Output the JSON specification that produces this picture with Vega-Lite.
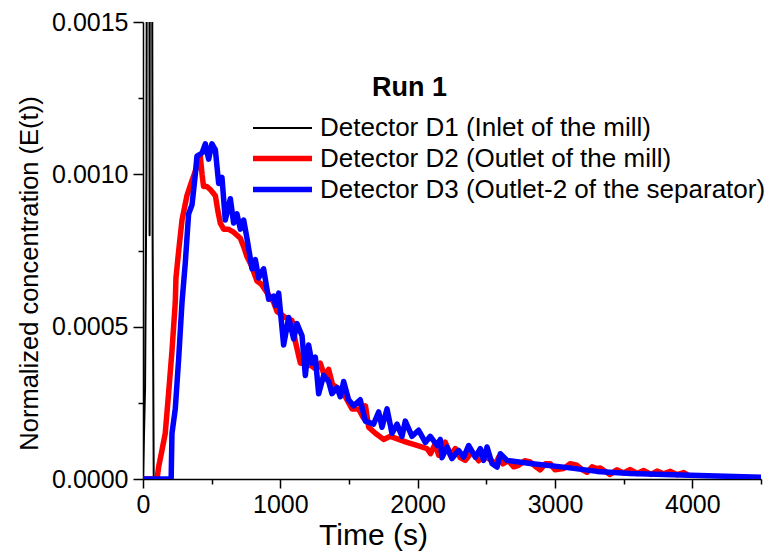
{
  "$schema": "https://vega.github.io/schema/vega-lite/v6.json",
  "width": 618,
  "height": 457,
  "autosize": {"type": "none"},
  "padding": {"left": 143, "top": 22, "right": 5, "bottom": 77},
  "background": "white",
  "config": {
    "view": {"stroke": null},
    "font": "Liberation Sans"
  },
  "title": {
    "text": "Run 1",
    "frame": "group",
    "anchor": "start",
    "orient": "top",
    "baseline": "top",
    "offset": 0,
    "dx": 229,
    "dy": 92,
    "font": "Liberation Sans",
    "fontSize": 27,
    "fontWeight": "bold",
    "color": "black"
  },
  "data": {
    "values": [
      {"s": "D1", "t": 0, "v": 0},
      {"s": "D1", "t": 15, "v": 0.0003},
      {"s": "D1", "t": 25, "v": 0.001},
      {"s": "D1", "t": 35, "v": 0.004},
      {"s": "D1", "t": 45, "v": 0.003},
      {"s": "D1", "t": 48, "v": 0.0008},
      {"s": "D1", "t": 52, "v": 0.0035},
      {"s": "D1", "t": 62, "v": 0.003},
      {"s": "D1", "t": 70, "v": 0.0008},
      {"s": "D1", "t": 78, "v": 0},
      {"s": "D1", "t": 200, "v": 0},

      {"s": "D2", "t": 0, "v": 0},
      {"s": "D2", "t": 102, "v": 0},
      {"s": "D2", "t": 114, "v": 0.00004},
      {"s": "D2", "t": 138, "v": 0.000094},
      {"s": "D2", "t": 162, "v": 0.00015},
      {"s": "D2", "t": 186, "v": 0.00028},
      {"s": "D2", "t": 211, "v": 0.00042},
      {"s": "D2", "t": 235, "v": 0.00058},
      {"s": "D2", "t": 240, "v": 0.00066},
      {"s": "D2", "t": 260, "v": 0.00075},
      {"s": "D2", "t": 284, "v": 0.00085},
      {"s": "D2", "t": 320, "v": 0.00093},
      {"s": "D2", "t": 357, "v": 0.00098},
      {"s": "D2", "t": 381, "v": 0.00101},
      {"s": "D2", "t": 400, "v": 0.00104},
      {"s": "D2", "t": 417, "v": 0.00106},
      {"s": "D2", "t": 430, "v": 0.001},
      {"s": "D2", "t": 441, "v": 0.00096},
      {"s": "D2", "t": 465, "v": 0.00096},
      {"s": "D2", "t": 490, "v": 0.00095},
      {"s": "D2", "t": 527, "v": 0.00093},
      {"s": "D2", "t": 545, "v": 0.00088},
      {"s": "D2", "t": 563, "v": 0.00084},
      {"s": "D2", "t": 587, "v": 0.00082},
      {"s": "D2", "t": 620, "v": 0.00082},
      {"s": "D2", "t": 660, "v": 0.00081},
      {"s": "D2", "t": 709, "v": 0.00079},
      {"s": "D2", "t": 735, "v": 0.00076},
      {"s": "D2", "t": 757, "v": 0.00073},
      {"s": "D2", "t": 790, "v": 0.0007},
      {"s": "D2", "t": 830, "v": 0.00065},
      {"s": "D2", "t": 860, "v": 0.00064},
      {"s": "D2", "t": 891, "v": 0.00062},
      {"s": "D2", "t": 951, "v": 0.00058},
      {"s": "D2", "t": 976, "v": 0.00055},
      {"s": "D2", "t": 1036, "v": 0.00053},
      {"s": "D2", "t": 1085, "v": 0.00052},
      {"s": "D2", "t": 1110, "v": 0.00045},
      {"s": "D2", "t": 1146, "v": 0.00038},
      {"s": "D2", "t": 1190, "v": 0.00038},
      {"s": "D2", "t": 1231, "v": 0.00037},
      {"s": "D2", "t": 1260, "v": 0.00036},
      {"s": "D2", "t": 1291, "v": 0.00038},
      {"s": "D2", "t": 1320, "v": 0.00034},
      {"s": "D2", "t": 1352, "v": 0.00036},
      {"s": "D2", "t": 1380, "v": 0.00031},
      {"s": "D2", "t": 1413, "v": 0.0003},
      {"s": "D2", "t": 1450, "v": 0.00029},
      {"s": "D2", "t": 1485, "v": 0.00026},
      {"s": "D2", "t": 1522, "v": 0.00023},
      {"s": "D2", "t": 1570, "v": 0.00023},
      {"s": "D2", "t": 1605, "v": 0.0002},
      {"s": "D2", "t": 1620, "v": 0.00024},
      {"s": "D2", "t": 1643, "v": 0.00017},
      {"s": "D2", "t": 1692, "v": 0.00015},
      {"s": "D2", "t": 1752, "v": 0.00013},
      {"s": "D2", "t": 1801, "v": 0.00014},
      {"s": "D2", "t": 1862, "v": 0.00013},
      {"s": "D2", "t": 1922, "v": 0.00012},
      {"s": "D2", "t": 1995, "v": 0.00011},
      {"s": "D2", "t": 2068, "v": 0.0001},
      {"s": "D2", "t": 2094, "v": 0.000083},
      {"s": "D2", "t": 2128, "v": 0.000116},
      {"s": "D2", "t": 2153, "v": 0.000078},
      {"s": "D2", "t": 2201, "v": 0.000121},
      {"s": "D2", "t": 2238, "v": 0.000078},
      {"s": "D2", "t": 2274, "v": 0.0001},
      {"s": "D2", "t": 2310, "v": 0.00007},
      {"s": "D2", "t": 2347, "v": 0.000061},
      {"s": "D2", "t": 2396, "v": 0.000089},
      {"s": "D2", "t": 2444, "v": 0.00006},
      {"s": "D2", "t": 2470, "v": 0.00008},
      {"s": "D2", "t": 2505, "v": 0.00007},
      {"s": "D2", "t": 2540, "v": 0.00006},
      {"s": "D2", "t": 2565, "v": 0.000045},
      {"s": "D2", "t": 2590, "v": 0.000072},
      {"s": "D2", "t": 2620, "v": 0.00005},
      {"s": "D2", "t": 2660, "v": 0.00006},
      {"s": "D2", "t": 2700, "v": 0.00004},
      {"s": "D2", "t": 2735, "v": 0.000045},
      {"s": "D2", "t": 2780, "v": 0.00006},
      {"s": "D2", "t": 2820, "v": 0.000056},
      {"s": "D2", "t": 2860, "v": 0.00004},
      {"s": "D2", "t": 2893, "v": 0.00003},
      {"s": "D2", "t": 2930, "v": 0.00005},
      {"s": "D2", "t": 2966, "v": 0.00005},
      {"s": "D2", "t": 3000, "v": 0.00003},
      {"s": "D2", "t": 3063, "v": 0.000034},
      {"s": "D2", "t": 3110, "v": 0.00005},
      {"s": "D2", "t": 3160, "v": 0.000045},
      {"s": "D2", "t": 3200, "v": 0.00003},
      {"s": "D2", "t": 3233, "v": 0.000022},
      {"s": "D2", "t": 3270, "v": 0.00004},
      {"s": "D2", "t": 3306, "v": 0.000034},
      {"s": "D2", "t": 3330, "v": 0.000036},
      {"s": "D2", "t": 3400, "v": 0.000015},
      {"s": "D2", "t": 3450, "v": 0.00003},
      {"s": "D2", "t": 3500, "v": 0.00002},
      {"s": "D2", "t": 3548, "v": 0.000031},
      {"s": "D2", "t": 3600, "v": 0.000018},
      {"s": "D2", "t": 3645, "v": 0.000028},
      {"s": "D2", "t": 3700, "v": 0.000015},
      {"s": "D2", "t": 3743, "v": 0.000026},
      {"s": "D2", "t": 3790, "v": 0.000017},
      {"s": "D2", "t": 3840, "v": 0.000025},
      {"s": "D2", "t": 3890, "v": 0.000014},
      {"s": "D2", "t": 3937, "v": 0.000021},
      {"s": "D2", "t": 3970, "v": 0.000012},

      {"s": "D3", "t": 0, "v": 0},
      {"s": "D3", "t": 205, "v": 0},
      {"s": "D3", "t": 211, "v": 0.00015},
      {"s": "D3", "t": 235, "v": 0.00023},
      {"s": "D3", "t": 259, "v": 0.00039},
      {"s": "D3", "t": 284, "v": 0.00058},
      {"s": "D3", "t": 308, "v": 0.00071},
      {"s": "D3", "t": 332, "v": 0.00087},
      {"s": "D3", "t": 357, "v": 0.0009},
      {"s": "D3", "t": 381, "v": 0.001},
      {"s": "D3", "t": 393, "v": 0.00106},
      {"s": "D3", "t": 430, "v": 0.00107},
      {"s": "D3", "t": 454, "v": 0.0011},
      {"s": "D3", "t": 478, "v": 0.00105},
      {"s": "D3", "t": 502, "v": 0.0011},
      {"s": "D3", "t": 527, "v": 0.00108},
      {"s": "D3", "t": 551, "v": 0.00097},
      {"s": "D3", "t": 575, "v": 0.00099},
      {"s": "D3", "t": 599, "v": 0.00085},
      {"s": "D3", "t": 636, "v": 0.00092},
      {"s": "D3", "t": 660, "v": 0.00084},
      {"s": "D3", "t": 684, "v": 0.00087},
      {"s": "D3", "t": 709, "v": 0.00082},
      {"s": "D3", "t": 733, "v": 0.00085},
      {"s": "D3", "t": 757, "v": 0.00079},
      {"s": "D3", "t": 794, "v": 0.00069},
      {"s": "D3", "t": 818, "v": 0.00072},
      {"s": "D3", "t": 842, "v": 0.00066},
      {"s": "D3", "t": 878, "v": 0.00069},
      {"s": "D3", "t": 915, "v": 0.00059},
      {"s": "D3", "t": 951, "v": 0.0006},
      {"s": "D3", "t": 965, "v": 0.00057},
      {"s": "D3", "t": 988, "v": 0.00061},
      {"s": "D3", "t": 1024, "v": 0.00044},
      {"s": "D3", "t": 1061, "v": 0.00053},
      {"s": "D3", "t": 1097, "v": 0.00046},
      {"s": "D3", "t": 1121, "v": 0.00051},
      {"s": "D3", "t": 1158, "v": 0.00047},
      {"s": "D3", "t": 1182, "v": 0.00034},
      {"s": "D3", "t": 1206, "v": 0.00044},
      {"s": "D3", "t": 1231, "v": 0.00038},
      {"s": "D3", "t": 1255, "v": 0.0004},
      {"s": "D3", "t": 1279, "v": 0.00028},
      {"s": "D3", "t": 1315, "v": 0.00034},
      {"s": "D3", "t": 1352, "v": 0.00032},
      {"s": "D3", "t": 1376, "v": 0.00028},
      {"s": "D3", "t": 1413, "v": 0.0003},
      {"s": "D3", "t": 1437, "v": 0.00027},
      {"s": "D3", "t": 1461, "v": 0.00032},
      {"s": "D3", "t": 1497, "v": 0.00026},
      {"s": "D3", "t": 1534, "v": 0.00024},
      {"s": "D3", "t": 1582, "v": 0.00026},
      {"s": "D3", "t": 1619, "v": 0.00019},
      {"s": "D3", "t": 1679, "v": 0.00018},
      {"s": "D3", "t": 1716, "v": 0.00022},
      {"s": "D3", "t": 1740, "v": 0.00017},
      {"s": "D3", "t": 1777, "v": 0.00023},
      {"s": "D3", "t": 1813, "v": 0.00015},
      {"s": "D3", "t": 1850, "v": 0.00018},
      {"s": "D3", "t": 1886, "v": 0.00014},
      {"s": "D3", "t": 1910, "v": 0.00019},
      {"s": "D3", "t": 1959, "v": 0.00014},
      {"s": "D3", "t": 2007, "v": 0.00016},
      {"s": "D3", "t": 2056, "v": 0.00012},
      {"s": "D3", "t": 2092, "v": 0.00014},
      {"s": "D3", "t": 2141, "v": 0.00011},
      {"s": "D3", "t": 2165, "v": 0.00013},
      {"s": "D3", "t": 2177, "v": 0.00007},
      {"s": "D3", "t": 2214, "v": 0.000105},
      {"s": "D3", "t": 2250, "v": 0.000067},
      {"s": "D3", "t": 2298, "v": 0.000094},
      {"s": "D3", "t": 2335, "v": 0.000072},
      {"s": "D3", "t": 2371, "v": 0.00011},
      {"s": "D3", "t": 2420, "v": 0.000072},
      {"s": "D3", "t": 2456, "v": 0.0001},
      {"s": "D3", "t": 2480, "v": 0.000061},
      {"s": "D3", "t": 2505, "v": 0.000105},
      {"s": "D3", "t": 2541, "v": 0.000051},
      {"s": "D3", "t": 2578, "v": 0.000039},
      {"s": "D3", "t": 2602, "v": 0.000083},
      {"s": "D3", "t": 2651, "v": 0.000061},
      {"s": "D3", "t": 2820, "v": 0.000051},
      {"s": "D3", "t": 3063, "v": 0.000039},
      {"s": "D3", "t": 3306, "v": 0.000025},
      {"s": "D3", "t": 3550, "v": 0.000018},
      {"s": "D3", "t": 3986, "v": 0.000012},
      {"s": "D3", "t": 4500, "v": 0.000006}
    ]
  },
  "mark": {"type": "line", "clip": true, "strokeJoin": "round", "strokeCap": "butt"},
  "encoding": {
    "x": {
      "field": "t",
      "type": "quantitative",
      "scale": {"domain": [0, 4500], "nice": false, "zero": false},
      "axis": {
        "title": "Time (s)",
        "values": [0, 500, 1000, 1500, 2000, 2500, 3000, 3500, 4000, 4500],
        "labelExpr": "datum.value % 1000 === 0 ? datum.label : ''",
        "format": "d",
        "grid": false,
        "domainColor": "black",
        "domainWidth": 1.5,
        "tickColor": "black",
        "tickWidth": 1.5,
        "tickSize": {"condition": {"test": "datum.value % 1000 !== 0", "value": 5}, "value": 9},
        "labelFont": "Liberation Sans",
        "labelFontSize": 25,
        "labelColor": "black",
        "labelPadding": 4,
        "labelFlush": false,
        "titleFont": "Liberation Sans",
        "titleFontSize": 30,
        "titleFontWeight": "normal",
        "titleColor": "black",
        "titlePadding": 3,
        "titleX": 230,
        "titleAlign": "center"
      }
    },
    "y": {
      "field": "v",
      "type": "quantitative",
      "scale": {"domain": [0, 0.0015], "nice": false},
      "axis": {
        "title": "Normalized concentration (E(t))",
        "values": [0, 0.00025, 0.0005, 0.00075, 0.001, 0.00125, 0.0015],
        "format": ".4f",
        "labelExpr": "abs(datum.value * 2000 - round(datum.value * 2000)) < 0.01 ? datum.label : ''",
        "grid": false,
        "domainColor": "black",
        "domainWidth": 1.5,
        "tickColor": "black",
        "tickWidth": 1.5,
        "tickSize": {"condition": {"test": "abs(datum.value * 2000 - round(datum.value * 2000)) > 0.01", "value": 5}, "value": 10},
        "labelFont": "Liberation Sans",
        "labelFontSize": 25,
        "labelColor": "black",
        "labelPadding": 5,
        "labelFlush": false,
        "titleFont": "Liberation Sans",
        "titleFontSize": 25.5,
        "titleFontWeight": "normal",
        "titleColor": "black",
        "titlePadding": 9,
        "titleY": 251,
        "titleAlign": "center"
      }
    },
    "color": {
      "field": "s",
      "type": "nominal",
      "title": null,
      "scale": {"domain": ["D1", "D2", "D3"], "range": ["#000000", "#ff0000", "#0000ff"]},
      "legend": {
        "orient": "none",
        "legendX": 122,
        "legendY": 90,
        "direction": "vertical",
        "symbolType": "M-2,0H2",
        "symbolSize": 870,
        "labelExpr": "datum.label == 'D1' ? 'Detector D1 (Inlet of the mill)' : datum.label == 'D2' ? 'Detector D2 (Outlet of the mill)' : 'Detector D3 (Outlet-2 of the separator)'",
        "labelFont": "Liberation Sans",
        "labelFontSize": 26,
        "labelColor": "black",
        "labelOffset": 20,
        "labelLimit": 600,
        "rowPadding": 0
      }
    },
    "strokeWidth": {
      "field": "s",
      "type": "nominal",
      "title": null,
      "scale": {"type": "ordinal", "domain": ["D1", "D2", "D3"], "range": [2, 5.5, 5.5]}
    }
  }
}
